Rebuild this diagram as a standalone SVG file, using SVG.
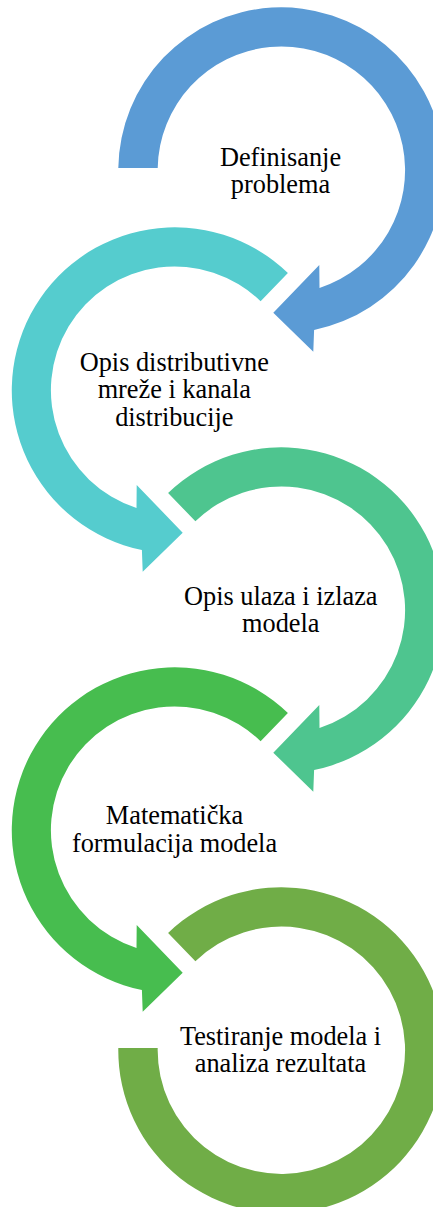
<svg xmlns="http://www.w3.org/2000/svg" width="433" height="1207" viewBox="0 0 433 1207">
<style>
text{font-family:"Liberation Serif","Times New Roman",serif;font-size:26.3px;fill:#000;text-anchor:middle}
</style>
<rect width="433" height="1207" fill="#fff"/>
<g id="node1">
<path fill="#5B9BD5" d="M157.7,168 L118.3,168 A163,163 0 1 1 314.1,330 L313.3,351.7 L273.3,312.7 L319.3,265 L319.5,287.9 A123.7,123.7 0 1 0 157.7,168 Z"/>
<text x="280.5" y="165.7">Definisanje</text>
<text x="280.5" y="192.7">problema</text>
</g>
<g id="node2">
<path fill="#55CCCE" d="M260.6,301.3 L287.9,273 A163,163 0 1 0 141.9,550 L142.7,571.7 L182.7,532.7 L136.7,485 L136.5,507.9 A123.7,123.7 0 1 1 260.6,301.3 Z"/>
<text x="174.3" y="370.7">Opis distributivne</text>
<text x="174.3" y="398.2">mreže i kanala</text>
<text x="174.3" y="425.7">distribucije</text>
</g>
<g id="node3">
<path fill="#4EC58F" d="M195.4,521.3 L168.1,493 A163,163 0 1 1 314.1,770 L313.3,791.7 L273.3,752.7 L319.3,705 L319.5,727.9 A123.7,123.7 0 1 0 195.4,521.3 Z"/>
<text x="280.8" y="605">Opis ulaza i izlaza</text>
<text x="280.8" y="632.3">modela</text>
</g>
<g id="node4">
<path fill="#47BD4F" d="M260.6,741.3 L287.9,713 A163,163 0 1 0 141.9,990 L142.7,1011.7 L182.7,972.7 L136.7,925 L136.5,947.9 A123.7,123.7 0 1 1 260.6,741.3 Z"/>
<text x="174.5" y="824.3">Matematička</text>
<text x="174.5" y="851.7">formulacija modela</text>
</g>
<g id="node5">
<path fill="#70AD47" d="M195.4,961.3 L168.1,933 A163,163 0 1 1 118.3,1048 L157.7,1048 A123.7,123.7 0 1 0 195.4,961.3 Z"/>
<text x="280.5" y="1045">Testiranje modela i</text>
<text x="280.5" y="1071.5">analiza rezultata</text>
</g>
<g id="connectors"></g>
</svg>
